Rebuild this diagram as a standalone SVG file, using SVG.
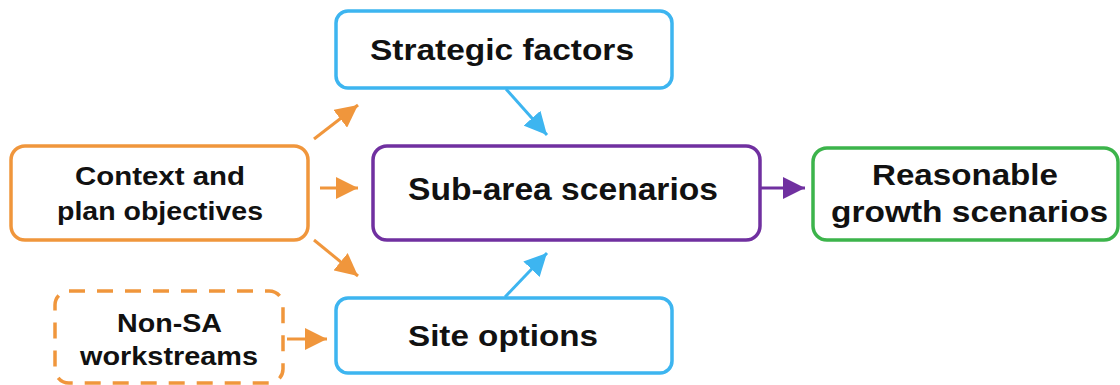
<svg xmlns="http://www.w3.org/2000/svg" width="1120" height="385" viewBox="0 0 1120 385">
<style>
.box{fill:#fff;stroke-width:3.5}
.o{stroke:#F0963C}
.b{stroke:#3DB5F0}
.p{stroke:#7030A0}
.g{stroke:#3CB44B}
.t{font-family:"Liberation Sans",Arial,sans-serif;font-weight:bold;fill:#111;text-anchor:start}
.c{fill:none;stroke-width:3}
</style>
<defs>
<marker id="ao" viewBox="0 0 10 10" refX="10" refY="5" markerWidth="7.5" markerHeight="7.5" markerUnits="strokeWidth" orient="auto"><path d="M0,0 L10,5 L0,10 z" fill="#F0963C"/></marker>
<marker id="ab" viewBox="0 0 10 10" refX="10" refY="5" markerWidth="7.5" markerHeight="7.5" markerUnits="strokeWidth" orient="auto"><path d="M0,0 L10,5 L0,10 z" fill="#3DB5F0"/></marker>
<marker id="ap" viewBox="0 0 10 10" refX="10" refY="5" markerWidth="7.5" markerHeight="7.5" markerUnits="strokeWidth" orient="auto"><path d="M0,0 L10,5 L0,10 z" fill="#7030A0"/></marker>
</defs>
<g id="connectors">
<line class="c o" x1="314" y1="139" x2="358" y2="105" marker-end="url(#ao)"/>
<line class="c o" x1="320" y1="188" x2="358" y2="188" marker-end="url(#ao)"/>
<line class="c o" x1="314" y1="240" x2="358" y2="276" marker-end="url(#ao)"/>
<line class="c o" x1="287" y1="339" x2="327" y2="339" marker-end="url(#ao)"/>
<line class="c b" x1="506" y1="89" x2="547" y2="135" marker-end="url(#ab)"/>
<line class="c b" x1="505" y1="297" x2="547" y2="253" marker-end="url(#ab)"/>
<line class="c p" x1="760" y1="188" x2="805" y2="188" marker-end="url(#ap)"/>
</g>
<g id="strategic">
<rect class="box b" x="336" y="11" width="336" height="77" rx="12"/>
<text class="t" x="370" y="60" font-size="30" textLength="264" lengthAdjust="spacingAndGlyphs">Strategic factors</text>
</g>
<g id="context">
<rect class="box o" x="11" y="146" width="297" height="94" rx="14"/>
<text class="t" x="75" y="185" font-size="26" textLength="170" lengthAdjust="spacingAndGlyphs">Context and</text>
<text class="t" x="57" y="220" font-size="26" textLength="206" lengthAdjust="spacingAndGlyphs">plan objectives</text>
</g>
<g id="nonsa">
<rect class="box o" x="55" y="291" width="228" height="92" rx="14" stroke-dasharray="16,12"/>
<text class="t" x="117" y="332" font-size="26" textLength="105" lengthAdjust="spacingAndGlyphs">Non-SA</text>
<text class="t" x="80" y="365" font-size="26" textLength="178" lengthAdjust="spacingAndGlyphs">workstreams</text>
</g>
<g id="subarea">
<rect class="box p" x="373" y="146" width="387" height="94" rx="14"/>
<text class="t" x="408" y="200" font-size="31" textLength="310" lengthAdjust="spacingAndGlyphs">Sub-area scenarios</text>
</g>
<g id="site">
<rect class="box b" x="336" y="298" width="336" height="75" rx="12"/>
<text class="t" x="408" y="346" font-size="30" textLength="190" lengthAdjust="spacingAndGlyphs">Site options</text>
</g>
<g id="reasonable">
<rect class="box g" x="813" y="148" width="305" height="92" rx="14"/>
<text class="t" x="872" y="185" font-size="29" textLength="186" lengthAdjust="spacingAndGlyphs">Reasonable</text>
<text class="t" x="831" y="222" font-size="29" textLength="277" lengthAdjust="spacingAndGlyphs">growth scenarios</text>
</g>
</svg>
